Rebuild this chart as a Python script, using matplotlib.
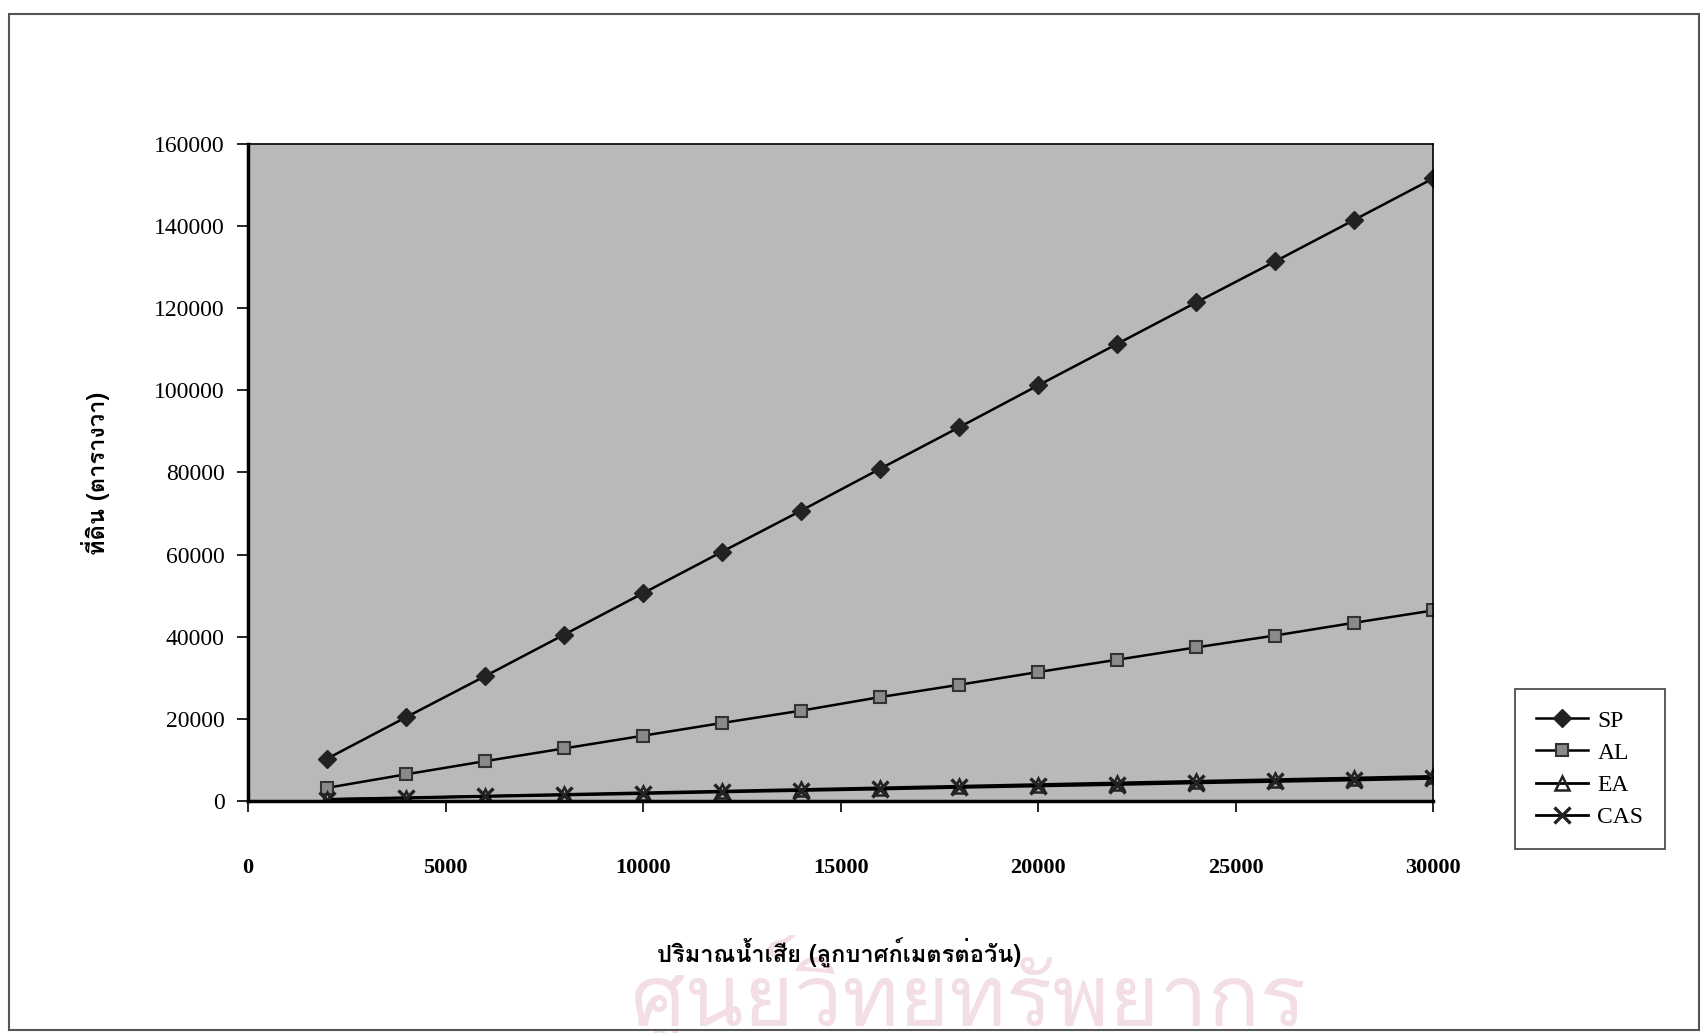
import matplotlib.pyplot as plt
from matplotlib import font_manager
from matplotlib.ft2font import FT2Font
from matplotlib.patches import Rectangle

# ปริมาณน้ำเสีย (ลบ.ม./วัน) และพื้นที่ที่ต้องใช้ (ตารางวา)
flow = [2000, 4000, 6000, 8000, 10000, 12000, 14000, 16000,
        18000, 20000, 22000, 24000, 26000, 28000, 30000]
sp = [10300, 20400, 30400, 40500, 50600, 60700, 70700, 80900,
      91000, 101200, 111300, 121400, 131400, 141500, 151600]
al = [3200, 6500, 9700, 12800, 15900, 19000, 22000, 25300,
      28300, 31400, 34400, 37400, 40300, 43400, 46400]
ea = [400, 800, 1200, 1600, 2000, 2400, 2800, 3200,
      3600, 4000, 4400, 4800, 5200, 5600, 6000]
cas = [350, 700, 1100, 1450, 1800, 2200, 2550, 2900,
       3300, 3650, 4000, 4400, 4750, 5100, 5500]

x_ticks = [0, 5000, 10000, 15000, 20000, 25000, 30000]
y_ticks = [0, 20000, 40000, 60000, 80000, 100000, 120000, 140000, 160000]


def thai_font():
    # หาฟอนต์ที่มีอักษรไทย
    for f in font_manager.fontManager.ttflist:
        try:
            if 0x0E17 in FT2Font(f.fname).get_charmap():
                return f.name
        except Exception:
            pass
    return 'DejaVu Sans'


THAI = thai_font()
SERIF = 'Liberation Serif'

fig = plt.figure(figsize=(17.05, 10.33), dpi=100)
ax = fig.add_axes([0.1455, 0.2246, 0.695, 0.636])

# กรอบนอกของแผนภูมิ
fig.patches.append(Rectangle((9 / 1705, 1 - 1030 / 1033), 1690 / 1705, 1016 / 1033,
                             transform=fig.transFigure, fill=False,
                             edgecolor='#555555', linewidth=1.5))

# ลายน้ำ
fig.text(0.568, 1 - 935 / 1033, 'ศูนย์วิทยทรัพยากร', family=[THAI, 'DejaVu Sans'],
         fontsize=62, color='#f3dde6', ha='center', va='top', zorder=0)

ax.set_facecolor('#b9b9b9')
ax.plot(flow, sp, color='black', lw=1.8, marker='D', ms=9, mfc='#222222', mec='#222222', label='SP')
ax.plot(flow, al, color='black', lw=1.8, marker='s', ms=9, mfc='#8a8a8a', mec='#333333', mew=1.5, label='AL')
ax.plot(flow, ea, color='black', lw=2.0, marker='^', ms=10, mfc='none', mec='#222222', mew=1.8, label='EA')
ax.plot(flow, cas, color='black', lw=2.0, marker='x', ms=11, mec='#222222', mew=2.4, label='CAS')

ax.set_xlim(0, 30000)
ax.set_ylim(0, 160000)
ax.set_xticks(x_ticks)
ax.set_yticks(y_ticks)
ax.set_xticklabels([str(v) for v in x_ticks], family=SERIF, fontsize=16, fontweight='bold')
ax.set_yticklabels([str(v) for v in y_ticks], family=SERIF, fontsize=17)
ax.tick_params(axis='x', direction='out', length=8, width=1.2, pad=33)
ax.tick_params(axis='y', direction='out', length=8, width=1.2, pad=9)
ax.spines['bottom'].set_linewidth(2.5)
ax.spines['left'].set_linewidth(2.5)
ax.spines['top'].set_linewidth(1.2)
ax.spines['right'].set_linewidth(1.2)

fig.text(96 / 1705, 1 - 473 / 1033, 'ที่ดิน (ตารางวา)', family=[THAI, 'DejaVu Sans'],
         fontsize=17, fontweight='bold', rotation=90, ha='center', va='center')
fig.text(839 / 1705, 1 - 953 / 1033, 'ปริมาณน้ำเสีย (ลูกบาศก์เมตรต่อวัน)', family=[THAI, 'DejaVu Sans'],
         fontsize=17, fontweight='bold', ha='center', va='center')

leg = fig.legend(loc='upper left', bbox_to_anchor=(1503 / 1705, 1 - 677 / 1033),
                 prop={'family': SERIF, 'size': 17}, frameon=True, fancybox=False,
                 edgecolor='#222222', handlelength=2.2, labelspacing=0.45,
                 borderpad=0.9, handletextpad=0.4)
leg.get_frame().set_linewidth(1.3)

fig.savefig('out.png', dpi=100, facecolor='white')
